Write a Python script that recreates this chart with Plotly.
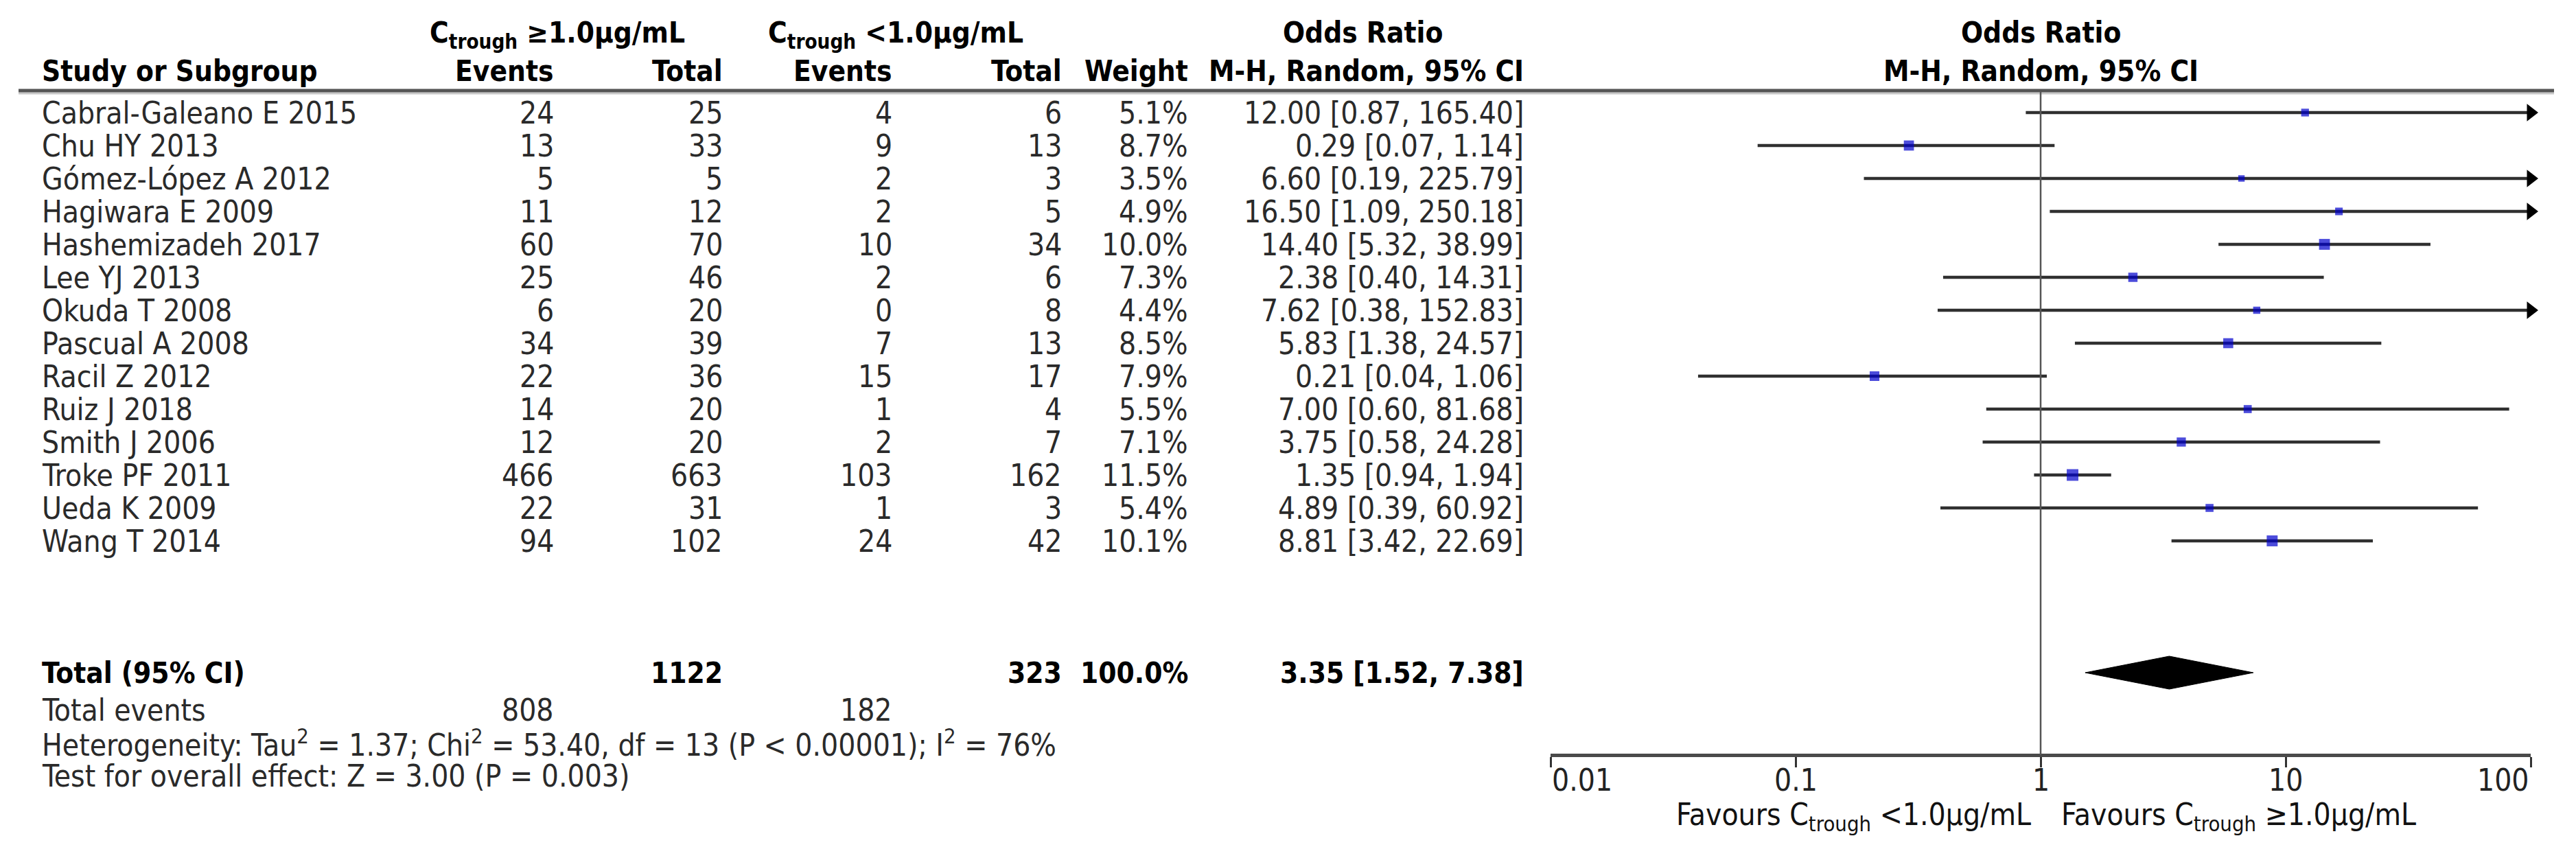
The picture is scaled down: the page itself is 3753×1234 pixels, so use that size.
import math
import plotly.graph_objects as go

# ---------------- data ----------------
studies = ["Cabral-Galeano E 2015", "Chu HY 2013", "Gómez-López A 2012", "Hagiwara E 2009",
           "Hashemizadeh 2017", "Lee YJ 2013", "Okuda T 2008", "Pascual A 2008",
           "Racil Z 2012", "Ruiz J 2018", "Smith J 2006", "Troke PF 2011",
           "Ueda K 2009", "Wang T 2014"]
events_hi = [24, 13, 5, 11, 60, 25, 6, 34, 22, 14, 12, 466, 22, 94]
total_hi = [25, 33, 5, 12, 70, 46, 20, 39, 36, 20, 20, 663, 31, 102]
events_lo = [4, 9, 2, 2, 10, 2, 0, 7, 15, 1, 2, 103, 1, 24]
total_lo = [6, 13, 3, 5, 34, 6, 8, 13, 17, 4, 7, 162, 3, 42]
weights = [5.1, 8.7, 3.5, 4.9, 10.0, 7.3, 4.4, 8.5, 7.9, 5.5, 7.1, 11.5, 5.4, 10.1]
odds = [12.00, 0.29, 6.60, 16.50, 14.40, 2.38, 7.62, 5.83, 0.21, 7.00, 3.75, 1.35, 4.89, 8.81]
ci_low = [0.87, 0.07, 0.19, 1.09, 5.32, 0.40, 0.38, 1.38, 0.04, 0.60, 0.58, 0.94, 0.39, 3.42]
ci_high = [165.40, 1.14, 225.79, 250.18, 38.99, 14.31, 152.83, 24.57, 1.06, 81.68, 24.28, 1.94, 60.92, 22.69]

pooled_total_hi = 1122
pooled_total_lo = 323
pooled_events_hi = 808
pooled_events_lo = 182
pooled_weight = 100.0
pooled_or = 3.35
pooled_low = 1.52
pooled_high = 7.38

tick_values = [0.01, 0.1, 1, 10, 100]
tick_labels = ["0.01", "0.1", "1", "10", "100"]

heterogeneity = ("Heterogeneity: Tau<sup>2</sup> = 1.37; Chi<sup>2</sup> = 53.40, df = 13 "
                 "(P &lt; 0.00001); I<sup>2</sup> = 76%")
overall_test = "Test for overall effect: Z = 3.00 (P = 0.003)"
favours_left = "Favours C<sub>trough</sub> &lt;1.0µg/mL"
favours_right = "Favours C<sub>trough</sub> ≥1.0µg/mL"

# ---------------- layout constants ----------------
W, H = 3753, 1234
ROW0, ROWH = 164, 48
XMIN, XMAX = 0.01, 100


def prow(px):
    return (px - ROW0) / ROWH


def xp(px):
    return px / W


FONT = "DejaVu Sans Condensed, DejaVu Sans, sans-serif"
FS = 44
FSB = 42
TXT = "#2a2a2a"

fig = go.Figure()

# CI lines
lx, ly = [], []
for i, (lo, hi) in enumerate(zip(ci_low, ci_high)):
    lx += [max(lo, XMIN), min(hi, XMAX), None]
    ly += [i, i, None]
fig.add_trace(go.Scatter(x=lx, y=ly, mode="lines", line=dict(color="#303030", width=4.5),
                         hoverinfo="skip", showlegend=False))

# arrows for CIs beyond axis
ax_, ay_ = [], []
for i, hi in enumerate(ci_high):
    if hi > XMAX:
        ax_.append(XMAX)
        ay_.append(i)
fig.add_trace(go.Scatter(x=ax_, y=ay_, mode="markers",
                         marker=dict(symbol="triangle-right", size=22, color="#000000"),
                         cliponaxis=False, hoverinfo="skip", showlegend=False))

# point estimates
fig.add_trace(go.Scatter(x=odds, y=list(range(len(studies))), mode="markers",
                         marker=dict(symbol="square", color="#0000cc",
                                     size=[5.0 * math.sqrt(w) for w in weights], line=dict(width=0)),
                         cliponaxis=False, hoverinfo="skip", showlegend=False))

# pooled diamond
TOTAL_ROW = 17
dh = 0.5
fig.add_trace(go.Scatter(x=[pooled_low, pooled_or, pooled_high, pooled_or, pooled_low],
                         y=[TOTAL_ROW, TOTAL_ROW - dh, TOTAL_ROW, TOTAL_ROW + dh, TOTAL_ROW],
                         mode="lines", fill="toself", fillcolor="#000000",
                         line=dict(color="#000000", width=1), hoverinfo="skip", showlegend=False))

ann = []


def add_text(text, x, y, xanchor="right", bold=False, xref="paper", yref="y", size=None, color=None):
    ann.append(dict(text=("<b>%s</b>" % text) if bold else text, x=x, y=y, xref=xref, yref=yref,
                    xanchor=xanchor, yanchor="middle", showarrow=False,
                    font=dict(family=FONT, size=size or (FSB if bold else FS),
                              color=color or ("#000000" if bold else TXT))))


# column positions (right edges, px)
C_EV1, C_TOT1, C_EV2, C_TOT2, C_W, C_OR = 809, 1055, 1302, 1549, 1733, 2222
NAME_X = 59

# headers
H1 = prow(50)
H2 = prow(103)
add_text("C<sub>trough</sub> ≥1.0µg/mL", xp(812), H1, "center", bold=True)
add_text("C<sub>trough</sub> &lt;1.0µg/mL", xp(1305), H1, "center", bold=True)
add_text("Odds Ratio", xp(1985), prow(47), "center", bold=True)
add_text("Odds Ratio", xp(2973), prow(47), "center", bold=True)
add_text("Study or Subgroup", xp(NAME_X), H2, "left", bold=True)
add_text("Events", xp(C_EV1), H2, bold=True)
add_text("Total", xp(C_TOT1), H2, bold=True)
add_text("Events", xp(C_EV2), H2, bold=True)
add_text("Total", xp(C_TOT2), H2, bold=True)
add_text("Weight", xp(C_W), H2, bold=True)
add_text("M-H, Random, 95% CI", xp(C_OR), H2, bold=True)
add_text("M-H, Random, 95% CI", xp(2973), H2, "center", bold=True)

# study rows
for i, s in enumerate(studies):
    add_text(s, xp(NAME_X), i, "left")
    add_text(str(events_hi[i]), xp(C_EV1), i)
    add_text(str(total_hi[i]), xp(C_TOT1), i)
    add_text(str(events_lo[i]), xp(C_EV2), i)
    add_text(str(total_lo[i]), xp(C_TOT2), i)
    add_text("%.1f%%" % weights[i], xp(C_W), i)
    add_text("%.2f [%.2f, %.2f]" % (odds[i], ci_low[i], ci_high[i]), xp(C_OR), i)

# total rows
add_text("Total (95% CI)", xp(NAME_X), TOTAL_ROW, "left", bold=True)
add_text(str(pooled_total_hi), xp(C_TOT1), TOTAL_ROW, bold=True)
add_text(str(pooled_total_lo), xp(C_TOT2), TOTAL_ROW, bold=True)
add_text("%.1f%%" % pooled_weight, xp(C_W), TOTAL_ROW, bold=True)
add_text("%.2f [%.2f, %.2f]" % (pooled_or, pooled_low, pooled_high), xp(C_OR), TOTAL_ROW, bold=True)

R_EV = prow(1034)
add_text("Total events", xp(NAME_X), R_EV, "left")
add_text(str(pooled_events_hi), xp(C_EV1), R_EV)
add_text(str(pooled_events_lo), xp(C_EV2), R_EV)
add_text(heterogeneity, xp(NAME_X), prow(1082), "left")
add_text(overall_test, xp(NAME_X), prow(1130), "left")

# axis tick labels (annotation x on a log axis is given in log10 units)
AXIS_PX = 1100
for k, (tv, tl) in enumerate(zip(tick_values, tick_labels)):
    anc = "left" if k == 0 else ("right" if k == len(tick_values) - 1 else "center")
    add_text(tl, math.log10(tv), 1 - 1136 / H, anc, xref="x", yref="paper", color="#222222")

add_text(favours_left, math.log10(1), 1 - 1189 / H, "right", xref="x", yref="paper", color="#111111")
ann[-1]["xshift"] = -12
add_text(favours_right, math.log10(1), 1 - 1189 / H, "left", xref="x", yref="paper", color="#111111")
ann[-1]["xshift"] = 28

# shapes: header rule, null line
shapes = [
    dict(type="line", xref="paper", yref="y", x0=xp(27), x1=xp(3721), y0=prow(136), y1=prow(136),
         line=dict(color="#c8c8c8", width=3)),
    dict(type="line", xref="paper", yref="y", x0=xp(27), x1=xp(3721), y0=prow(132), y1=prow(132),
         line=dict(color="#555555", width=5)),
    dict(type="line", xref="x", yref="y", x0=1, x1=1, y0=prow(132), y1=prow(AXIS_PX),
         line=dict(color="#555555", width=2.5)),
]

axis_pos = 1 - AXIS_PX / H
dom = [xp(2259), xp(3687)]
fig.update_layout(
    width=W, height=H, autosize=False,
    margin=dict(l=0, r=0, t=0, b=0, pad=0),
    paper_bgcolor="white", plot_bgcolor="white",
    showlegend=False,
    xaxis=dict(type="log", range=[math.log10(XMIN), math.log10(XMAX)], domain=dom,
               anchor="free", position=axis_pos, showgrid=False, zeroline=False,
               showline=True, linecolor="#4a4a4a", linewidth=5,
               tickvals=tick_values, ticks="outside", ticklen=15, tickwidth=2.5, tickcolor="#333333",
               showticklabels=False, fixedrange=True),
    xaxis2=dict(type="log", range=[math.log10(XMIN), math.log10(XMAX)], domain=dom,
                anchor="free", position=axis_pos, overlaying="x", matches="x",
                showgrid=False, zeroline=False, showline=False,
                tickvals=tick_values, ticks="inside", ticklen=15, tickwidth=2.5, tickcolor="#333333",
                showticklabels=False, fixedrange=True),
    yaxis=dict(domain=[0, 1], range=[prow(H), prow(0)], visible=False, showgrid=False,
               zeroline=False, fixedrange=True),
    annotations=ann,
    shapes=shapes,
)

fig.write_html("out.html", config={"displayModeBar": False},
               post_script="document.body.style.margin='0px';document.body.style.overflow='hidden';")
